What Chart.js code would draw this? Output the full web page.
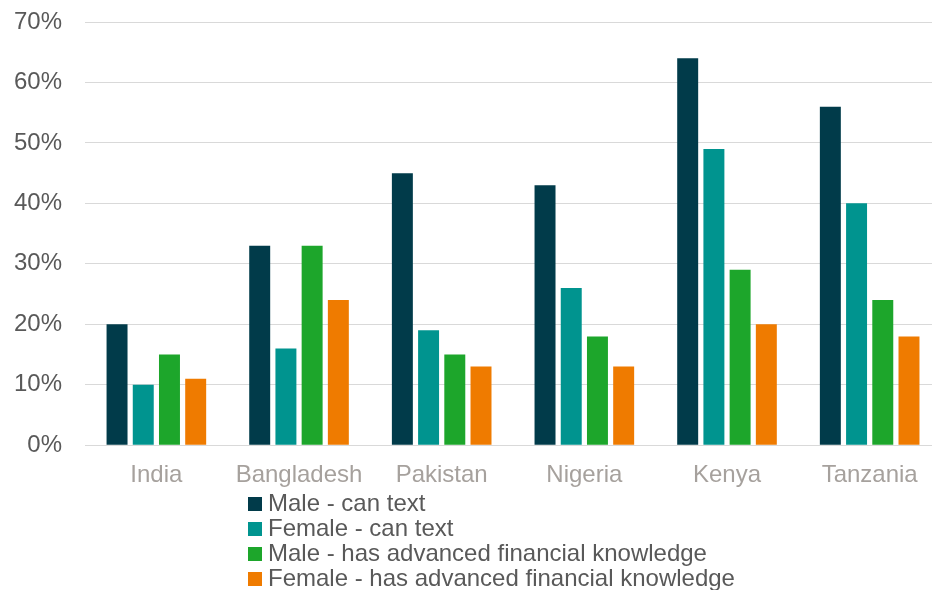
<!DOCTYPE html>
<html>
<head>
<meta charset="utf-8">
<script src="https://cdn.jsdelivr.net/npm/chart.js@4"></script>
<style>
  body { margin: 0; background: #fff; overflow: hidden; }
  #wrap { position: relative; width: 932px; height: 590px; overflow: hidden; }
  #legend { position: absolute; left: 248px; top: 490px; font-family: "Liberation Sans", Arial, sans-serif; font-size: 24px; color: #595959; }
  .item { height: 25px; line-height: 25px; white-space: nowrap; }
  .box { display: inline-block; width: 14px; height: 14px; margin-right: 6px; vertical-align: 0px; }
</style>
</head>
<body>
<div id="wrap">
  <!-- plot area runs a few px past the right edge, as in the original -->
  <canvas id="myChart" width="941" height="590"></canvas>
  <div id="legend"></div>
</div>
<script>
const labels = ['India', 'Bangladesh', 'Pakistan', 'Nigeria', 'Kenya', 'Tanzania'];
const maleText = [20, 33, 45, 43, 64, 56];
const femaleText = [10, 16, 19, 26, 49, 40];
const maleFin = [15, 33, 15, 18, 29, 24];
const femaleFin = [11, 24, 13, 13, 20, 18];
const yTicks = [0, 10, 20, 30, 40, 50, 60, 70];

const data = {
    labels : labels,
    datasets : [{
        label : 'Male - can text',
        backgroundColor: '#013b4a',
        data : maleText,
    },{
        label : 'Female - can text',
        backgroundColor: '#00948f',
        data : femaleText,
    },{
        label : 'Male - has advanced financial knowledge',
        backgroundColor: '#1da62b',
        data : maleFin,
    },{
        label : 'Female - has advanced financial knowledge',
        backgroundColor: '#ef7b00',
        data : femaleFin,
    }]
};
data.datasets.forEach(d => {
    d.categoryPercentage = 0.735;
    d.barPercentage = 0.8;
});

const font = { family: '"Liberation Sans", Arial, sans-serif', size: 24 };
const config = {
    type : 'bar',
    data : data,
    options: {
        responsive: false,
        animation: false,
        layout: { padding: { top: 0, left: -9, right: 0, bottom: 84 } },
        plugins: {
            legend: { display: false },
            tooltip: { enabled: false }
        },
        scales: {
            x: {
                grid: { display: false, drawTicks: false },
                border: { color: '#d9d9d9' },
                ticks: { color: '#a6a19d', font: font, padding: 16 }
            },
            y: {
                min: 0,
                max: 70,
                afterBuildTicks: axis => { axis.ticks = yTicks.map(v => ({ value: v })); },
                afterFit: axis => { axis.paddingTop = 22; },
                grid: { color: '#d9d9d9', drawTicks: false },
                border: { display: false },
                ticks: { color: '#595959', font: font, padding: 23, callback: v => v + '%' }
            }
        }
    }
};
const myChart = new Chart(
    document.getElementById('myChart'),
    config
);

const legend = document.getElementById('legend');
data.datasets.forEach(d => {
    const row = document.createElement('div');
    row.className = 'item';
    const box = document.createElement('span');
    box.className = 'box';
    box.style.background = d.backgroundColor;
    row.appendChild(box);
    row.appendChild(document.createTextNode(d.label));
    legend.appendChild(row);
});
</script>
</body>
</html>
